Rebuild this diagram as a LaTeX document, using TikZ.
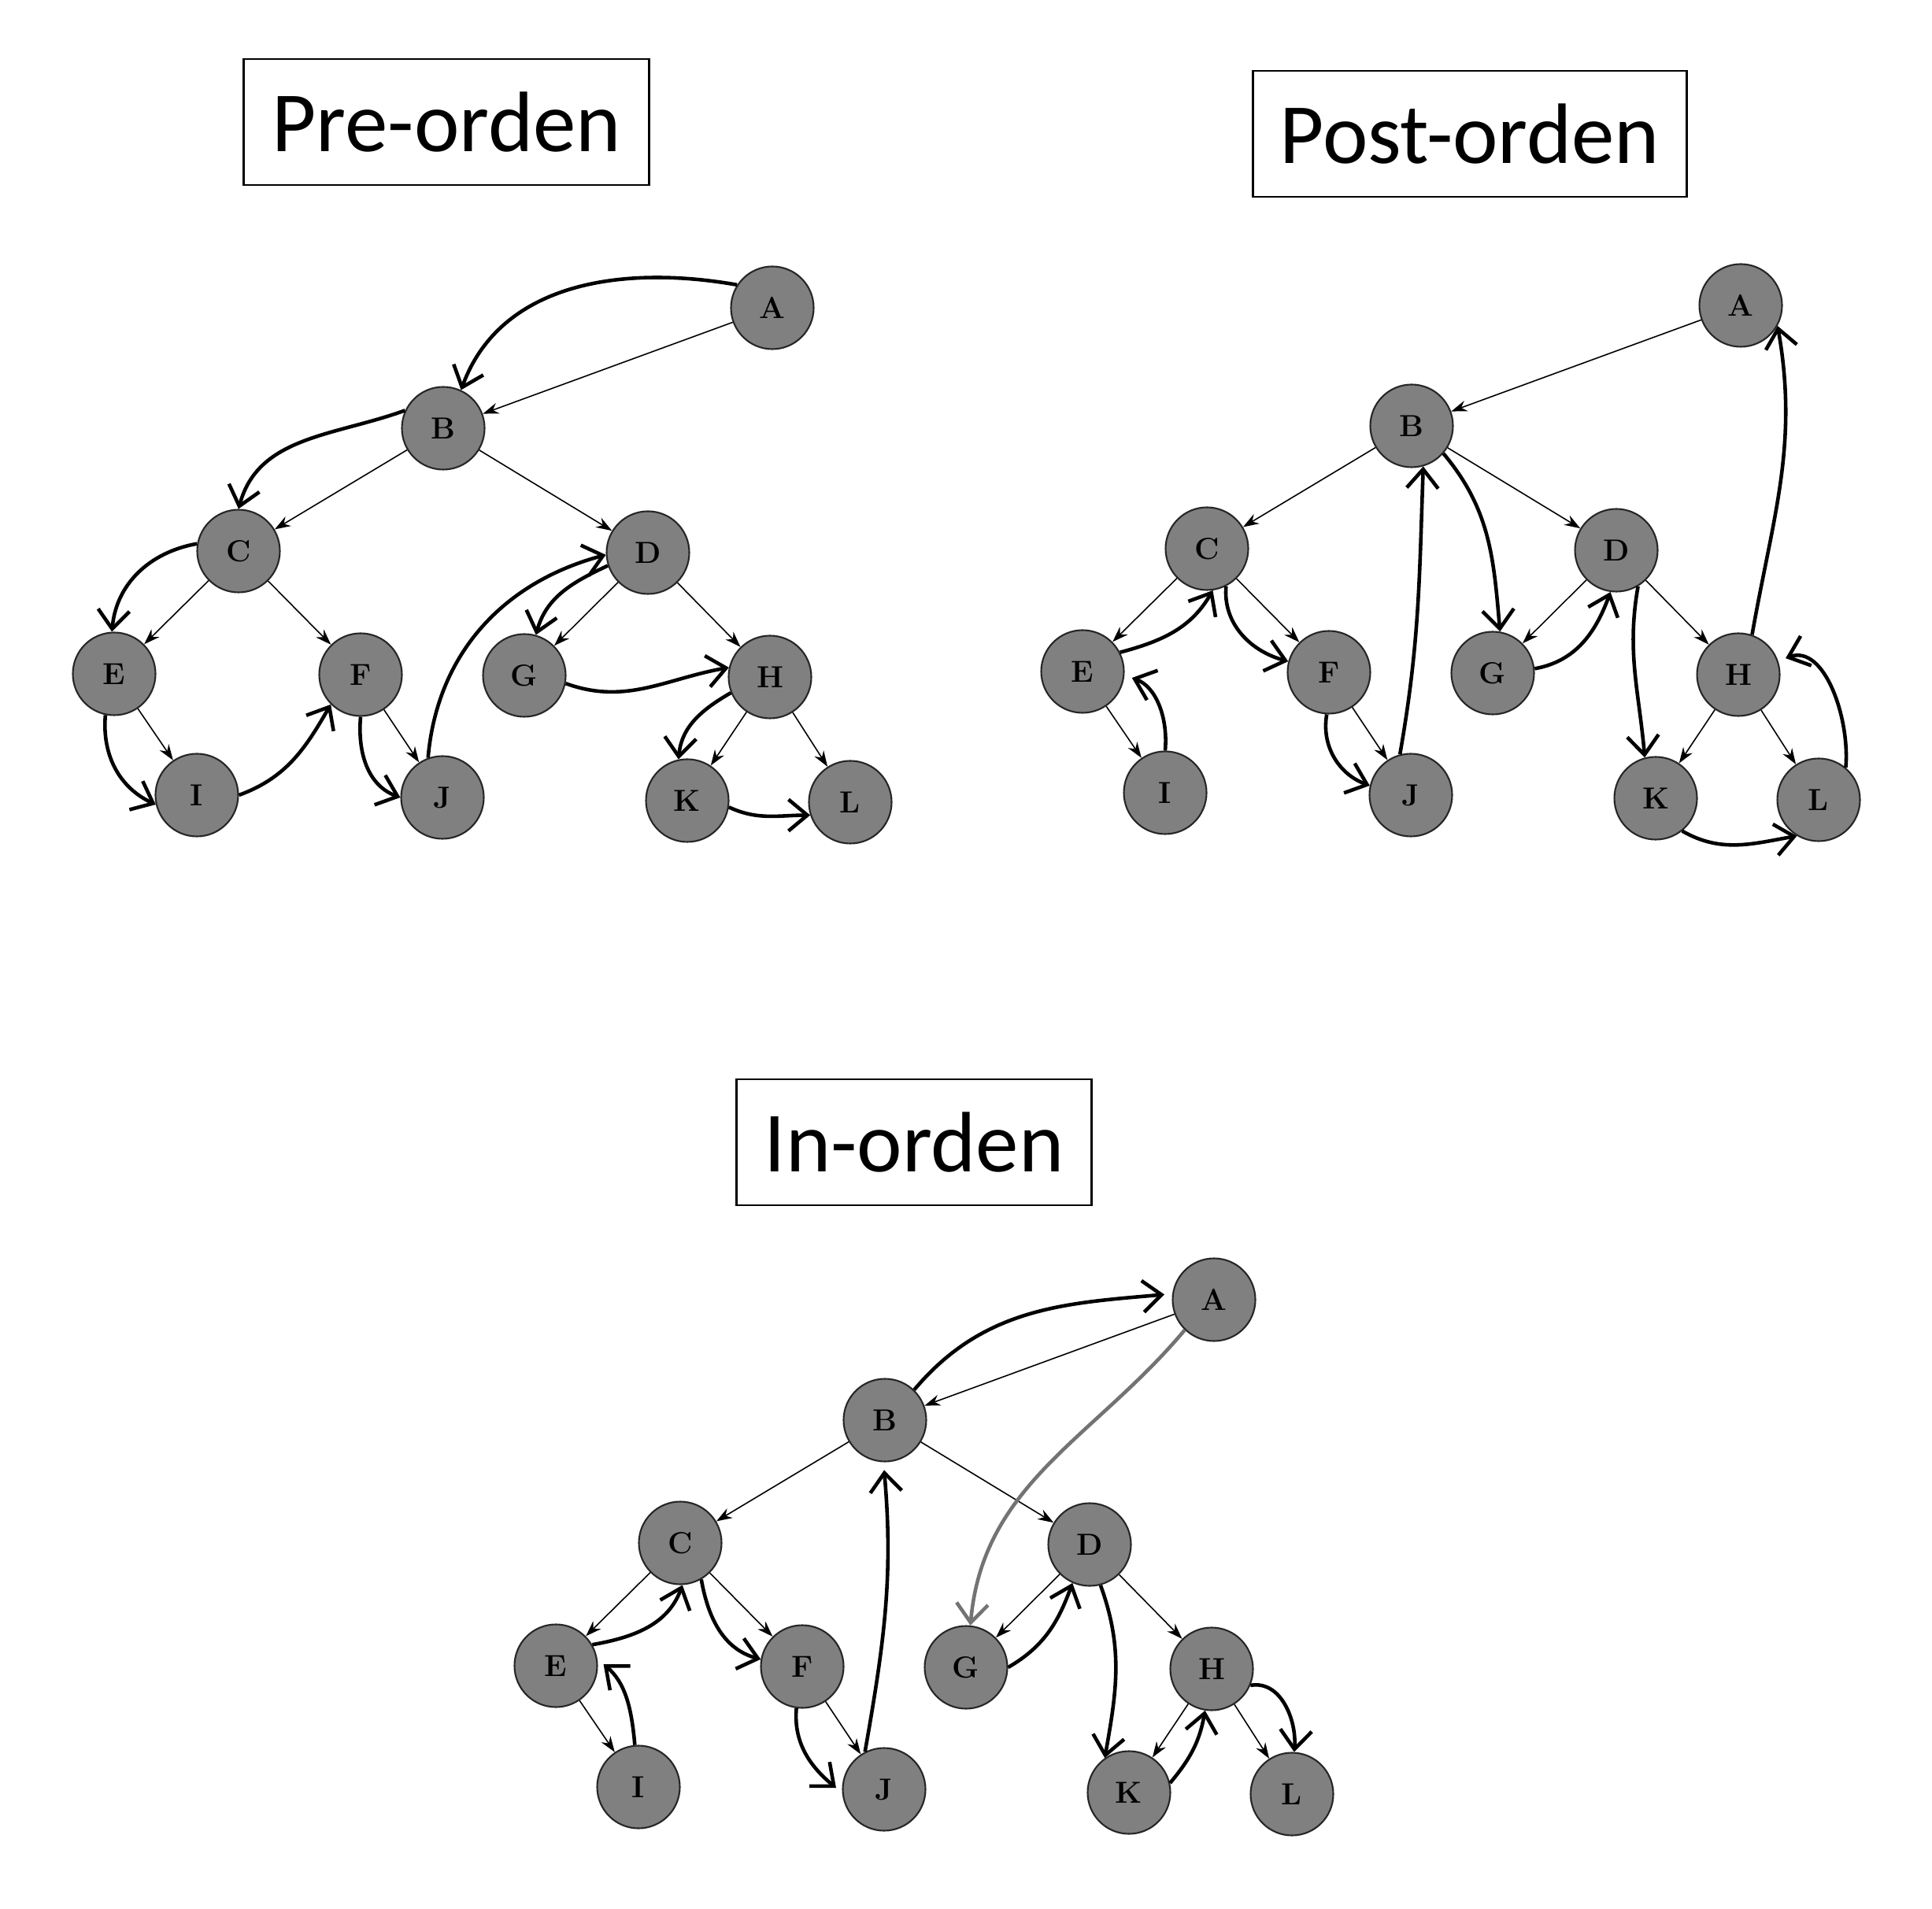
\documentclass[tikz,border=0pt]{standalone}
\usepackage{fontspec}
\newfontfamily\carlito{Carlito}
\usepackage{tikz}
\usetikzlibrary{arrows.meta}

% one tree, nodes named #1A ... #1L
\newcommand{\arbol}[1]{
    \node[nodo] (#1A) at (0, 0) {A};
    \node[nodo] (#1B) at (-4.18, -1.53) {B};
    \node[nodo] (#1C) at (-6.78, -3.09) {C};
    \node[nodo] (#1D) at (-1.58, -3.11) {D};
    \node[nodo] (#1E) at (-8.36, -4.65) {E};
    \node[nodo] (#1F) at (-5.23, -4.66) {F};
    \node[nodo] (#1G) at (-3.15, -4.67) {G};
    \node[nodo] (#1H) at (-0.03, -4.69) {H};
    \node[nodo] (#1I) at (-7.31, -6.19) {I};
    \node[nodo] (#1J) at (-4.19, -6.22) {J};
    \node[nodo] (#1K) at (-1.08, -6.26) {K};
    \node[nodo] (#1L) at (0.99, -6.28) {L};
    \foreach \u/\v in {A/B, B/C, B/D, C/E, C/F, E/I, F/J, D/G, D/H, H/K, H/L}
        \draw[arista] (#1\u) -- (#1\v);
}

\begin{document}
\begin{tikzpicture}[
        nodo/.style={circle, draw=black!85, line width=0.6pt, fill=black!50,
            minimum size=1.05cm, inner sep=0pt, font=\fontsize{11}{13}\selectfont\bfseries},
        arista/.style={-{Stealth[length=2mm, width=1.4mm]}, line width=0.45pt},
        recorrido/.style={-{Straight Barb[length=2.4mm, width=4mm]}, line width=1.3pt},
        titulo/.style={draw, line width=0.6pt, minimum height=1.6cm,
            font=\carlito\fontsize{31}{36}\selectfont}
    ]
        \fill[white] (0, 0) rectangle (24.54, 24.24);

        % Titles
        \node[titulo, minimum width=5.15cm] (tpre) at (5.67, 22.69) {Pre-orden};
        \node[titulo, minimum width=5.51cm] (tpost) at (18.67, 22.54) {Post-orden};
        \node[titulo, minimum width=4.51cm] (tin) at (11.61, 9.73) {In-orden};

        % Trees
        \begin{scope}[shift={(9.81, 20.33)}]
            \arbol{p}
        \end{scope}
        \begin{scope}[shift={(22.11, 20.36)}]
            \arbol{q}
        \end{scope}
        \begin{scope}[shift={(15.42, 7.73)}]
            \arbol{i}
        \end{scope}

        % Pre-orden
        \draw[recorrido] (pA.147) to[out=170, in=70] (pB.65);
        \draw[recorrido] (pB.155) to[out=200, in=75] (pC.90);
        \draw[recorrido] (pC.170) to[out=190, in=85] (pE.93);
        \draw[recorrido] (pE.258) to[out=265, in=155] (pI.193);
        \draw[recorrido] (pI.0) to[out=20, in=240] (pF.225);
        \draw[recorrido] (pF.270) to[out=265, in=160] (pJ.180);
        \draw[recorrido] (pJ.110) to[out=85, in=195] (pD.183);
        \draw[recorrido] (pD.198) to[out=205, in=75] (pG.74);
        \draw[recorrido] (pG.349) to[out=-20, in=190] (pH.167);
        \draw[recorrido] (pH.202) to[out=210, in=85] (pK.102);
        \draw[recorrido] (pK.351) to[out=-25, in=180] (pL.198);

        % Post-orden
        \draw[recorrido, shorten >=1mm] (qI.90) to[out=85, in=-20] (qE.-5);
        \draw[recorrido] (qE.27) to[out=15, in=240] (qC.278);
        \draw[recorrido] (qC.297) to[out=265, in=165] (qF.165);
        \draw[recorrido] (qF.267) to[out=260, in=160] (qJ.167);
        \draw[recorrido] (qJ.105) to[out=80, in=268] (qB.286);
        \draw[recorrido] (qB.319) to[out=-50, in=95] (qG.80);
        \draw[recorrido] (qG.6) to[out=10, in=250] (qD.262);
        \draw[recorrido] (qD.301) to[out=260, in=95] (qK.105);
        \draw[recorrido] (qK.309) to[out=-30, in=190] (qL.239);
        \draw[recorrido, shorten >=1mm] (qL.50) to[out=85, in=20] (qH.19);
        \draw[recorrido] (qH.71) to[out=80, in=280] (qA.331);

        % In-orden
        \draw[recorrido, shorten >=1mm] (iI.95) to[out=95, in=-40] (iE.9);
        \draw[recorrido] (iE.30) to[out=10, in=250] (iC.273);
        \draw[recorrido] (iC.300) to[out=280, in=165] (iF.170);
        \draw[recorrido, shorten >=1mm] (iF.262) to[out=265, in=140] (iJ.185);
        \draw[recorrido, shorten >=1mm] (iJ.117) to[out=80, in=275] (iB.268);
        \draw[recorrido, shorten >=1mm] (iB.46) to[out=50, in=185] (iA.172);
        \draw[recorrido, black!55] (iA.226) to[out=230, in=85] (iG.84);
        \draw[recorrido] (iG.0) to[out=30, in=250] (iD.246);
        \draw[recorrido] (iD.285) to[out=-70, in=80] (iK.125);
        \draw[recorrido] (iK.13) to[out=50, in=260] (iH.261);
        \draw[recorrido] (iH.337) to[out=10, in=85] (iL.87);

    \end{tikzpicture}
\end{document}
